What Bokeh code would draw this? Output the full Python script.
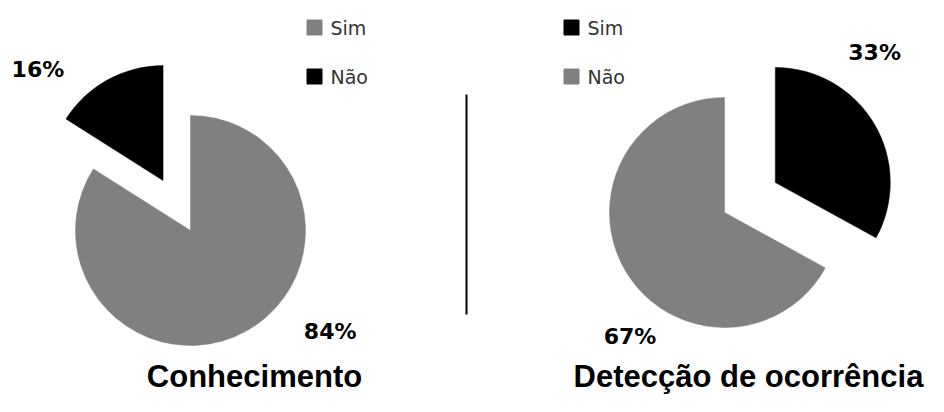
import math
from bokeh.plotting import figure
from bokeh.models import Range1d
from bokeh.core.properties import value
from bokeh.embed import file_html
from bokeh.resources import INLINE

# ---- data ----
categories = ["Sim", "Não"]
conhecimento = [84, 16]
deteccao = [33, 67]
titles = ["Conhecimento", "Detecção de ocorrência"]

GRAY = "#808080"
BLACK = "#000000"

W, H = 928, 396
p = figure(width=W, height=H, x_range=Range1d(0, W), y_range=Range1d(0, H),
           output_backend="svg", toolbar_location=None,
           x_axis_location=None, y_axis_location=None, min_border=0)
p.grid.visible = False
p.outline_line_color = None
p.background_fill_color = "white"

charts = [
    dict(values=conhecimento, colors=[GRAY, BLACK], explode=[0, 57],
         center=(190, 166), label_dist=[174, 165], label_shift=[24.6, 20.5],
         legend_x=314, title=titles[0], title_x=254),
    dict(values=deteccao, colors=[BLACK, GRAY], explode=[59, 0],
         center=(724, 184), label_dist=[161, 158], label_shift=[21.3, 22.7],
         legend_x=571, title=titles[1], title_x=748),
]

R = 115
LABEL_DY = 3

for ch in charts:
    vals = ch["values"]
    total = float(sum(vals))
    cx0, cy0 = ch["center"]
    cum = 0.0
    xs, ys, sa, ea, cols = [], [], [], [], []
    lx, ly, lt = [], [], []
    for i, v in enumerate(vals):
        a0 = 360.0 * cum / total
        cum += v
        a1 = 360.0 * cum / total
        # clockwise from 12 o'clock -> math angles
        start = 90.0 - a1
        end = 90.0 - a0
        mid = 90.0 - (a0 + a1) / 2.0
        ex = ch["explode"][i]
        cx = cx0 + ex * math.cos(math.radians(mid))
        cy = cy0 + ex * math.sin(math.radians(mid))
        xs.append(cx); ys.append(cy)
        sa.append(math.radians(start)); ea.append(math.radians(end))
        cols.append(ch["colors"][i])
        la = math.radians(mid + ch["label_shift"][i])
        d = ch["label_dist"][i]
        lx.append(cx + d * math.cos(la)); ly.append(cy + d * math.sin(la) + LABEL_DY)
        lt.append(f"{v}%")
    p.wedge(x=xs, y=ys, radius=R, start_angle=sa, end_angle=ea,
            fill_color=cols, line_color=cols, line_width=0.5)
    p.text(x=lx, y=ly, text=lt, text_font=value("DejaVu Sans"),
           text_font_style="bold", text_font_size="22px",
           text_align="center", text_baseline="middle", text_color="#000000")
    # legend
    leg_y = [369, 320]
    p.scatter(x=[ch["legend_x"]] * 2, y=leg_y, marker="square", size=15,
              fill_color=ch["colors"], line_color=ch["colors"])
    p.text(x=[ch["legend_x"] + 16] * 2, y=leg_y, text=categories,
           text_font=value("DejaVu Sans"), text_font_size="19px",
           text_align="left", text_baseline="middle", text_color="#333333")
    # title
    p.text(x=[ch["title_x"]], y=[20], text=[ch["title"]],
           text_font=value("Liberation Sans"), text_font_style="bold",
           text_font_size="31px", text_align="center",
           text_baseline="middle", text_color="#000000")

# separator line
p.line(x=[466, 466], y=[82, 302], line_color="#000000", line_width=2)

open("out.html", "w").write(file_html(p, INLINE))
